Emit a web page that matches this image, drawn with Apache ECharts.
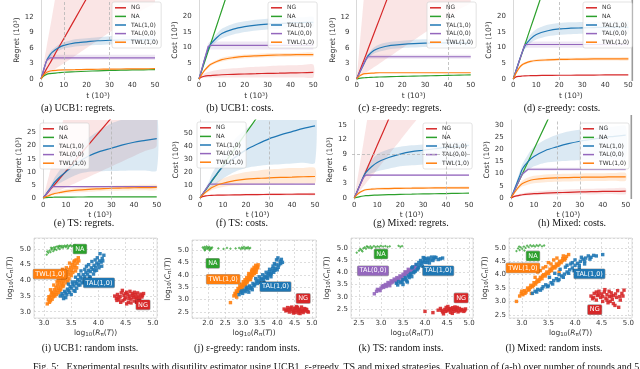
<!DOCTYPE html>
<html>
<head>
<meta charset="utf-8">
<script src="https://cdn.jsdelivr.net/npm/echarts@6/dist/echarts.min.js"></script>
<style>
  html, body { margin: 0; padding: 0; background: #fff; }
  #chart { width: 640px; height: 369px; }
</style>
</head>
<body>
<div id="chart"></div>
<script>
// time grid (10^3 rounds) shared by all curve panels
const T = [0, 1, 2.5, 4, 5, 7.5, 10, 15, 20, 25, 30, 35, 40, 45, 50]
const NAMES = ['NG', 'NA', 'TAL(1,0)', 'TAL(0,0)', 'TWL(1,0)']
const COLORS = {
  'NG': '#d62728',
  'NA': '#2ca02c',
  'TAL(1,0)': '#1f77b4',
  'TAL(0,0)': '#9467bd',
  'TWL(1,0)': '#ff7f0e',
}

// (a) UCB1 regrets
const aNG = [0, 0.8, 2.0, 3.1, 3.9, 5.9, 7.8, 11.7, 15.6, 19.5, 23.4, 27.3, 31.2, 35.1, 39]
const aNGlo = [0, 0.3, 0.8, 1.2, 1.5, 2.3, 3, 4.5, 6, 7.5, 9, 10.5, 12, 13.5, 15]
const aNGhi = [0, 2.5, 6.3, 10, 12.5, 18.8, 25, 37.5, 50, 62.5, 75, 87.5, 100, 112.5, 125]
const aNA = [0, 0.5, 0.9, 1.05, 1.1, 1.2, 1.3, 1.4, 1.5, 1.58, 1.65, 1.7, 1.75, 1.78, 1.8]
const aTWL = [0, 0.7, 1.3, 1.55, 1.6, 1.7, 1.75, 1.8, 1.85, 1.88, 1.9, 1.93, 1.95, 1.97, 2.0]
const aTAL10 = [0, 1.5, 3.6, 4.7, 5.2, 6.0, 6.5, 7.0, 7.2, 7.4, 7.5, 7.55, 7.6, 7.6, 7.6]
const aTAL10lo = [0, 1.3, 3.2, 4.2, 4.7, 5.4, 5.9, 6.3, 6.5, 6.6, 6.7, 6.8, 6.8, 6.8, 6.8]
const aTAL10hi = [0, 1.7, 4.0, 5.2, 5.7, 6.6, 7.1, 7.7, 7.9, 8.1, 8.3, 8.3, 8.4, 8.4, 8.4]
const aTAL00 = [0, 1.5, 3.6, 4.1, 4.1, 4.1, 4.1, 4.1, 4.1, 4.1, 4.1, 4.1, 4.1, 4.1, 4.1]
const aTAL00lo = [0, 1.4, 3.3, 3.7, 3.7, 3.7, 3.7, 3.7, 3.7, 3.7, 3.7, 3.7, 3.7, 3.7, 3.7]
const aTAL00hi = [0, 1.6, 3.9, 4.7, 4.7, 4.7, 4.7, 4.7, 4.7, 4.7, 4.7, 4.7, 4.7, 4.7, 4.7]

// (b) UCB1 costs
const bNG = [0, 0.6, 0.9, 1.05, 1.1, 1.25, 1.35, 1.5, 1.6, 1.7, 1.8, 1.85, 1.95, 2.0, 2.1]
const bNGlo = [0, 0.3, 0.4, 0.5, 0.5, 0.5, 0.5, 0.5, 0.5, 0.5, 0.5, 0.5, 0.5, 0.5, 0.5]
const bNGhi = [0, 1.0, 1.8, 2.2, 2.4, 2.8, 3.1, 3.4, 3.7, 3.9, 4.1, 4.3, 4.4, 4.5, 4.6]
const bNA = [0, 2.2, 5.5, 8.8, 11, 16.5, 22, 33, 44, 55, 66, 77, 88, 99, 110]
const bTAL10 = [0, 2.5, 6.3, 9.6, 11.0, 13.0, 14.5, 15.9, 16.7, 17.2, 17.5, 17.7, 17.9, 18.0, 18.1]
const bTAL10lo = [0, 2.3, 5.8, 8.9, 10.0, 11.8, 13.0, 14.2, 15.0, 15.5, 15.8, 16.0, 16.2, 16.3, 16.4]
const bTAL10hi = [0, 2.7, 6.8, 10.3, 12.0, 14.2, 16.0, 17.6, 18.4, 18.9, 19.2, 19.4, 19.6, 19.7, 19.8]
const bTAL00 = [0, 2.6, 6.5, 10.4, 10.7, 10.7, 10.7, 10.7, 10.7, 10.7, 10.7, 10.7, 10.7, 10.7, 10.7]
const bTAL00lo = [0, 2.4, 6.0, 9.4, 9.4, 9.4, 9.4, 9.4, 9.4, 9.4, 9.4, 9.4, 9.4, 9.4, 9.4]
const bTAL00hi = [0, 2.8, 7.0, 11.4, 12.0, 12.0, 12.0, 12.0, 12.0, 12.0, 12.0, 12.0, 12.0, 12.0, 12.0]
const bTWL = [0, 1.2, 2.8, 4.0, 4.6, 5.5, 6.2, 6.8, 7.2, 7.4, 7.55, 7.65, 7.72, 7.78, 7.8]
const bTWLlo = [0, 1.0, 2.4, 3.5, 4.1, 5.0, 5.6, 6.2, 6.6, 6.8, 6.9, 7.0, 7.1, 7.1, 7.2]
const bTWLhi = [0, 1.4, 3.2, 4.5, 5.1, 6.0, 6.8, 7.4, 7.8, 8.0, 8.2, 8.3, 8.3, 8.4, 8.4]

// (c) eps-greedy regrets
const cNG = [0, 1.16, 2.9, 4.6, 5.8, 8.7, 11.6, 17.4, 23.2, 29, 34.8, 40.6, 46.4, 52.2, 58]
const cNGlo = [0, 0.3, 0.75, 1.2, 1.5, 2.25, 3, 4.5, 6, 7.5, 9, 10.5, 12, 13.5, 15]
const cNGhi = [0, 5, 12.5, 20, 25, 37.5, 50, 75, 100, 125, 150, 175, 200, 225, 250]
const cNA = [0, 0.1, 0.2, 0.25, 0.28, 0.33, 0.38, 0.45, 0.5, 0.55, 0.6, 0.65, 0.7, 0.75, 0.8]
const cTWL = [0, 0.5, 0.9, 1.05, 1.1, 1.15, 1.2, 1.2, 1.2, 1.2, 1.2, 1.2, 1.2, 1.2, 1.2]
const cTAL10 = [0, 0.95, 2.3, 3.7, 4.5, 5.5, 6.0, 6.5, 6.7, 6.85, 6.95, 7.0, 7.0, 7.0, 7.0]
const cTAL10lo = [0, 0.85, 2.1, 3.4, 4.1, 4.9, 5.3, 5.8, 6.0, 6.1, 6.2, 6.3, 6.3, 6.3, 6.3]
const cTAL10hi = [0, 1.05, 2.5, 4.0, 4.9, 6.1, 6.7, 7.2, 7.4, 7.6, 7.7, 7.8, 7.8, 7.8, 7.8]
const cTAL00 = [0, 0.95, 2.4, 3.8, 4.3, 4.3, 4.3, 4.3, 4.3, 4.3, 4.3, 4.3, 4.3, 4.3, 4.3]
const cTAL00lo = [0, 0.9, 2.2, 3.5, 3.9, 3.9, 3.9, 3.9, 3.9, 3.9, 3.9, 3.9, 3.9, 3.9, 3.9]
const cTAL00hi = [0, 1.0, 2.6, 4.1, 4.7, 4.7, 4.7, 4.7, 4.7, 4.7, 4.7, 4.7, 4.7, 4.7, 4.7]

// (d) eps-greedy costs
const dNG = [0, 0.6, 0.85, 0.95, 1.0, 1.05, 1.1, 1.15, 1.2, 1.2, 1.25, 1.25, 1.3, 1.3, 1.3]
const dNA = [0, 2.17, 5.4, 8.7, 10.9, 16.3, 21.7, 32.6, 43.4, 54.3, 65.1, 76, 86.8, 97.7, 108.5]
const dTAL10 = [0, 2.3, 5.7, 8.8, 10.5, 12.8, 14.2, 15.4, 16.0, 16.2, 16.3, 16.4, 16.5, 16.5, 16.5]
const dTAL10lo = [0, 2.1, 5.2, 8.0, 9.5, 11.5, 12.6, 13.6, 14.1, 14.3, 14.4, 14.5, 14.5, 14.5, 14.5]
const dTAL10hi = [0, 2.5, 6.2, 9.6, 11.6, 14.2, 15.9, 17.3, 17.9, 18.1, 18.2, 18.3, 18.4, 18.4, 18.5]
const dTAL00 = [0, 2.2, 5.5, 8.8, 11, 11, 11, 11, 11, 11, 11, 11, 11, 11, 11]
const dTAL00lo = [0, 2.1, 5.2, 8.4, 10.0, 10.0, 10.0, 10.0, 10.0, 10.0, 10.0, 10.0, 10.0, 10.0, 10.0]
const dTAL00hi = [0, 2.3, 5.8, 9.2, 12.0, 12.0, 12.0, 12.0, 12.0, 12.0, 12.0, 12.0, 12.0, 12.0, 12.0]
const dTWL = [0, 1.6, 3.5, 4.6, 5.0, 5.6, 5.9, 6.1, 6.25, 6.3, 6.35, 6.4, 6.4, 6.4, 6.4]
const dTWLlo = [0, 1.4, 3.2, 4.2, 4.6, 5.2, 5.5, 5.7, 5.8, 5.9, 5.9, 5.9, 5.9, 5.9, 5.9]
const dTWLhi = [0, 1.8, 3.8, 5.0, 5.4, 6.0, 6.3, 6.5, 6.7, 6.8, 6.8, 6.9, 6.9, 6.9, 6.9]

// (e) TS regrets
const eNG = [0, 1.02, 2.55, 4.1, 5.1, 7.65, 10.2, 15.3, 20.4, 25.5, 30.6, 35.7, 40.8, 45.9, 51]
const eNGlo = [0, 0.4, 1, 1.6, 2, 3, 4, 6, 8, 10, 12, 14, 16, 18, 20]
const eNGhi = [0, 3.4, 8.5, 13.6, 17, 25.5, 34, 51, 68, 85, 102, 119, 136, 153, 170]
const eNA = [0, 0.1, 0.2, 0.25, 0.28, 0.3, 0.32, 0.35, 0.37, 0.38, 0.4, 0.4, 0.4, 0.4, 0.4]
const eTWL = [0, 0.4, 0.9, 1.4, 1.7, 2.1, 2.5, 3.0, 3.3, 3.5, 3.7, 3.8, 3.9, 3.95, 4.0]
const eTWLlo = [0, 0.3, 0.6, 1.0, 1.2, 1.5, 1.8, 2.1, 2.4, 2.6, 2.7, 2.8, 2.9, 2.95, 3.0]
const eTWLhi = [0, 0.5, 1.2, 1.8, 2.2, 2.8, 3.3, 3.9, 4.3, 4.5, 4.7, 4.8, 4.9, 5.0, 5.0]
const eTAL10 = [0, 1.2, 3.0, 4.8, 6.0, 8.2, 10.0, 13.4, 16.0, 17.8, 19.0, 20.3, 21.3, 22.0, 22.7]
const eTAL10lo = [0, 0.9, 2.3, 3.6, 4.4, 5.8, 7.0, 9.0, 10.0, 10.2, 10.3, 10.4, 10.5, 10.5, 10.5]
const eTAL10hi = [0, 1.5, 3.8, 6.0, 7.8, 11.0, 14.0, 19.0, 23.0, 26.0, 28.5, 30.0, 31.0, 32.0, 33.0]
const eTAL00 = [0, 1.1, 2.7, 4.3, 4.3, 4.3, 4.3, 4.3, 4.3, 4.3, 4.3, 4.3, 4.3, 4.3, 4.3]
const eTAL00lo = [0, 1.0, 2.5, 4.0, 4.0, 4.0, 4.0, 4.0, 4.0, 4.0, 4.0, 4.0, 4.0, 4.0, 4.0]
const eTAL00hi = [0, 1.2, 2.9, 4.6, 4.6, 4.6, 4.6, 4.6, 4.6, 4.6, 4.6, 4.6, 4.6, 4.6, 4.6]

// (f) TS costs
const fNG = [0, 1.0, 1.6, 1.9, 2.0, 2.1, 2.2, 2.35, 2.5, 2.6, 2.7, 2.8, 2.85, 2.9, 3.0]
const fNGlo = [0, 0.8, 1.2, 1.4, 1.5, 1.6, 1.6, 1.7, 1.8, 1.8, 1.9, 1.9, 1.9, 2.0, 2.0]
const fNGhi = [0, 1.2, 2.0, 2.4, 2.5, 2.7, 2.8, 3.0, 3.2, 3.4, 3.5, 3.6, 3.7, 3.8, 3.9]
const fNA = [0, 2.5, 6.25, 10, 12.5, 18.75, 25, 37.5, 50, 62.5, 75, 87.5, 100, 112.5, 125]
const fTAL10 = [0, 2.6, 6.5, 10.4, 13.0, 19.0, 24.0, 31.0, 37.0, 41.5, 45.5, 48.5, 51.0, 53.5, 55.5]
const fTAL10lo = [0, 2.0, 5.0, 7.0, 8.0, 11.5, 15.0, 20.0, 23.0, 24.5, 25.5, 26.0, 26.5, 27.0, 27.0]
const fTAL10hi = [0, 3.2, 8.0, 13.0, 18.0, 26.0, 33.0, 45.0, 53.0, 60.0, 66.0, 71.0, 75.0, 78.0, 80.0]
const fTAL00 = [0, 2.7, 6.7, 10.7, 10.7, 10.7, 10.7, 10.7, 10.7, 10.7, 10.7, 10.7, 10.7, 10.7, 10.7]
const fTWL = [0, 2.0, 4.5, 6.5, 7.8, 10.0, 11.3, 13.3, 14.5, 15.0, 15.5, 15.8, 16.0, 16.3, 16.5]
const fTWLlo = [0, 1.6, 3.5, 5.0, 6.0, 7.5, 8.5, 9.5, 10.0, 10.3, 10.5, 10.7, 10.8, 10.9, 11.0]
const fTWLhi = [0, 2.4, 5.5, 8.0, 9.5, 12.5, 15.0, 18.0, 20.0, 21.0, 22.0, 22.5, 23.0, 23.0, 23.0]

// (g) Mixed regrets
const gNG = [0, 1.08, 2.7, 4.3, 5.4, 8.1, 10.8, 16.2, 21.6, 27, 32.4, 37.8, 43.2, 48.6, 54]
const gNGlo = [0, 0.59, 1.5, 2.4, 3, 4.4, 5.9, 8.9, 11.8, 14.8, 17.7, 20.7, 23.6, 26.6, 29.5]
const gNGhi = [0, 2.85, 7.1, 11.4, 14.3, 21.4, 28.5, 42.8, 57, 71.3, 85.5, 99.8, 114, 128, 142.5]
const gNA = [0, 0.15, 0.3, 0.42, 0.48, 0.55, 0.6, 0.68, 0.75, 0.8, 0.85, 0.88, 0.92, 0.96, 1.0]
const gTWL = [0, 0.6, 1.2, 1.55, 1.7, 1.82, 1.9, 1.95, 2.0, 2.02, 2.05, 2.07, 2.08, 2.1, 2.1]
const gTWLlo = [0, 0.5, 1.0, 1.35, 1.5, 1.6, 1.7, 1.75, 1.8, 1.82, 1.85, 1.87, 1.88, 1.9, 1.9]
const gTWLhi = [0, 0.7, 1.4, 1.75, 1.9, 2.05, 2.15, 2.2, 2.25, 2.28, 2.3, 2.32, 2.33, 2.35, 2.35]
const gTAL10 = [0, 1.1, 2.8, 4.4, 5.2, 6.4, 7.3, 8.3, 9.0, 9.5, 9.8, 10.1, 10.4, 10.6, 10.8]
const gTAL10lo = [0, 1.0, 2.5, 3.9, 4.5, 5.1, 5.5, 6.0, 6.5, 6.7, 6.9, 7.0, 7.1, 7.2, 7.3]
const gTAL10hi = [0, 1.2, 3.1, 4.9, 6.0, 7.8, 9.0, 10.0, 10.5, 10.8, 11.0, 11.2, 11.4, 11.5, 11.6]
const gTAL00 = [0, 1.05, 2.6, 4.2, 4.7, 4.7, 4.7, 4.7, 4.7, 4.7, 4.7, 4.7, 4.7, 4.7, 4.7]
const gTAL00lo = [0, 1.0, 2.5, 4.0, 4.5, 4.5, 4.5, 4.5, 4.5, 4.5, 4.5, 4.5, 4.5, 4.5, 4.5]
const gTAL00hi = [0, 1.1, 2.7, 4.4, 4.9, 4.9, 4.9, 4.9, 4.9, 4.9, 4.9, 4.9, 4.9, 4.9, 4.9]

// (h) Mixed costs
const hNG = [0, 0.5, 0.9, 1.2, 1.35, 1.6, 1.8, 2.0, 2.2, 2.35, 2.5, 2.6, 2.7, 2.75, 2.8]
const hNGlo = [0, 0.3, 0.5, 0.7, 0.8, 1.0, 1.1, 1.2, 1.3, 1.4, 1.5, 1.5, 1.6, 1.6, 1.6]
const hNGhi = [0, 0.8, 1.4, 1.8, 2.0, 2.4, 2.7, 3.0, 3.3, 3.5, 3.7, 3.8, 3.9, 4.0, 4.0]
const hNA = [0, 2, 5, 8, 10, 15, 20, 30, 40, 50, 60, 70, 80, 90, 100]
const hTAL10 = [0, 2.4, 6.0, 9.6, 12.0, 15.0, 17.0, 19.5, 21.0, 22.3, 23.3, 24.0, 24.8, 25.3, 25.8]
const hTAL10lo = [0, 2.0, 5.0, 7.5, 9.0, 11.5, 13.0, 14.5, 15.0, 15.3, 15.5, 15.7, 15.8, 15.9, 16.0]
const hTAL10hi = [0, 2.8, 7.0, 11.5, 14.0, 18.0, 21.0, 24.0, 26.0, 27.3, 28.0, 28.6, 29.0, 29.3, 29.5]
const hTAL00 = [0, 2, 5, 8, 10, 11.8, 11.8, 11.8, 11.8, 11.8, 11.8, 11.8, 11.8, 11.8, 11.8]
const hTAL00lo = [0, 1.9, 4.8, 7.7, 9.6, 11.2, 11.2, 11.2, 11.2, 11.2, 11.2, 11.2, 11.2, 11.2, 11.2]
const hTAL00hi = [0, 2.1, 5.2, 8.3, 10.4, 12.4, 12.4, 12.4, 12.4, 12.4, 12.4, 12.4, 12.4, 12.4, 12.4]
const hTWL = [0, 1.5, 3.5, 5.2, 6.0, 7.0, 7.6, 8.1, 8.3, 8.4, 8.5, 8.6, 8.6, 8.7, 8.7]
const hTWLlo = [0, 1.2, 2.8, 4.2, 4.8, 5.6, 6.1, 6.5, 6.7, 6.8, 6.9, 7.0, 7.0, 7.1, 7.1]
const hTWLhi = [0, 1.8, 4.2, 6.2, 7.2, 8.4, 9.1, 9.7, 9.9, 10.0, 10.1, 10.2, 10.2, 10.3, 10.3]

// (i) UCB1 random instances: [log10 R, log10 C]
const iNA = [[3.05,4.82],[3.08,4.88],[3.10,4.95],[3.12,4.90],[3.14,4.98],[3.15,5.02],[3.17,4.93],[3.18,5.05],[3.20,5.00],[3.21,5.06],[3.23,4.97],[3.24,5.08],[3.26,5.03],[3.27,5.07],[3.29,5.00],[3.30,5.09],[3.32,5.05],[3.33,5.10],[3.35,5.04],[3.36,5.08],[3.38,5.11],[3.40,5.06],[3.41,5.09],[3.43,5.12],[3.45,5.07],[3.47,5.10],[3.49,5.12],[3.51,5.08],[3.54,5.11],[3.57,5.12],[3.13,5.04],[3.19,4.98],[3.28,5.10],[3.06,4.92],[3.44,5.02]]
const iTWL = [[3.06,3.25],[3.08,3.38],[3.10,3.30],[3.11,3.45],[3.13,3.52],[3.15,3.40],[3.16,3.60],[3.18,3.55],[3.19,3.70],[3.21,3.62],[3.22,3.78],[3.24,3.68],[3.25,3.85],[3.27,3.75],[3.28,3.92],[3.30,3.82],[3.31,4.00],[3.33,3.90],[3.34,4.05],[3.36,3.95],[3.37,4.12],[3.39,4.02],[3.40,4.20],[3.42,4.10],[3.43,4.28],[3.45,4.18],[3.46,4.35],[3.48,4.25],[3.49,4.42],[3.51,4.32],[3.52,4.50],[3.54,4.40],[3.55,4.58],[3.57,4.48],[3.59,4.65],[3.61,4.55],[3.63,4.72],[3.20,3.50],[3.29,3.68],[3.35,3.80],[3.44,3.98],[3.50,4.15],[3.38,4.30],[3.47,4.55],[3.58,4.30],[3.14,3.62],[3.26,4.00],[3.32,4.22],[3.41,4.40],
  [3.09,3.48],[3.12,3.35],[3.17,3.48],[3.23,3.55],[3.27,3.60],[3.31,3.72],[3.36,3.85],[3.39,4.15],[3.42,3.92],[3.46,4.05],[3.53,4.25],[3.56,4.62],[3.60,4.40],[3.64,4.62],[3.34,4.35],[3.24,3.95],[3.18,3.85],[3.12,3.70]]
const iTAL10 = [[3.30,3.50],[3.33,3.58],[3.35,3.52],[3.38,3.65],[3.40,3.60],[3.43,3.72],[3.45,3.68],[3.48,3.80],[3.50,3.75],[3.53,3.88],[3.55,3.82],[3.58,3.95],[3.60,3.90],[3.62,4.02],[3.65,3.98],[3.67,4.10],[3.70,4.05],[3.72,4.18],[3.75,4.12],[3.77,4.25],[3.80,4.20],[3.82,4.32],[3.85,4.28],[3.87,4.40],[3.90,4.35],[3.92,4.48],[3.95,4.42],[3.97,4.55],[4.00,4.50],[4.02,4.62],[4.05,4.58],[4.07,4.70],[4.10,4.80],[4.03,4.85],[3.98,4.72],[3.88,4.60],[3.78,4.45],[3.68,4.30],[3.63,3.85],[3.52,3.95],[3.45,3.88],[3.57,3.65],[3.70,3.92],[3.83,4.12],[3.93,4.30],[3.40,3.45],[3.50,3.55],
  [3.36,3.42],[3.42,3.55],[3.47,3.62],[3.55,3.68],[3.60,3.75],[3.66,3.85],[3.72,3.95],[3.78,4.00],[3.85,4.10],[3.91,4.20],[3.96,4.32],[4.01,4.40],[4.06,4.45],[3.75,4.35],[3.82,4.50],[3.94,4.65],[4.08,4.62],[3.58,4.10],[3.64,4.18]]
const iNG = [[4.30,3.50],[4.33,3.42],[4.35,3.55],[4.38,3.38],[4.40,3.48],[4.42,3.60],[4.45,3.35],[4.47,3.52],[4.50,3.44],[4.52,3.62],[4.55,3.30],[4.57,3.50],[4.60,3.40],[4.62,3.58],[4.64,3.46],[4.66,3.34],[4.68,3.54],[4.70,3.42],[4.72,3.60],[4.74,3.50],[4.76,3.38],[4.78,3.56],[4.80,3.47],[4.83,3.58],[4.52,3.25],[4.60,3.28],[4.44,3.68],[4.58,3.65],[4.66,3.62],[4.48,3.40],[4.70,3.30],[4.36,3.46],
  [4.34,3.36],[4.41,3.30],[4.49,3.58],[4.56,3.42],[4.63,3.52],[4.69,3.46],[4.75,3.44],[4.81,3.52],[4.54,3.54]]

// (j) eps-greedy random instances
const jNA = [[1.85,5.10],[1.88,5.05],[1.90,5.12],[1.92,5.02],[1.94,5.08],[1.96,5.14],[1.98,5.04],[2.00,5.10],[2.02,5.06],[2.04,5.12],[2.06,5.02],[2.08,5.08],[2.10,5.05],[2.12,5.10],[1.91,4.98],[2.05,4.98],[2.30,5.06],[2.45,5.04],[2.55,5.08],[2.65,5.05],[2.80,5.06],[2.90,5.08],[2.95,5.04],[2.98,5.10],[3.01,5.06],[3.04,5.12],[3.07,5.04],[3.10,5.09],[3.13,5.06],[3.16,5.11],[3.19,5.05],[3.22,5.08]]
const jTWL = [[2.65,2.88],[2.75,3.15],[2.78,3.25],[2.80,3.20],[2.82,3.35],[2.85,3.28],[2.87,3.45],[2.90,3.38],[2.92,3.55],[2.95,3.48],[2.97,3.62],[3.00,3.55],[3.02,3.72],[3.05,3.65],[3.07,3.80],[3.10,3.72],[3.12,3.88],[3.15,3.80],[3.17,3.95],[3.20,3.88],[3.22,4.02],[3.25,3.95],[3.27,4.10],[3.30,4.05],[3.32,4.18],[3.35,4.12],[3.37,4.25],[3.40,4.20],[3.42,4.32],[3.45,4.40],[3.38,4.38],[3.28,4.22],[3.18,4.05],[3.08,3.58],[2.98,3.40],[3.13,3.70],[3.23,3.80],
  [2.83,3.10],[2.88,3.30],[2.93,3.42],[2.99,3.50],[3.04,3.60],[3.09,3.65],[3.14,3.75],[3.19,3.82],[3.24,3.90],[3.29,3.98],[3.34,4.05],[3.39,4.10],[3.44,4.28],[3.33,4.30],[3.26,4.15]]
const jTAL10 = [[2.90,3.20],[2.95,3.30],[3.00,3.25],[3.05,3.38],[3.10,3.45],[3.15,3.40],[3.20,3.55],[3.25,3.50],[3.30,3.65],[3.35,3.60],[3.40,3.72],[3.45,3.78],[3.50,3.70],[3.55,3.85],[3.60,3.80],[3.65,3.95],[3.70,3.90],[3.75,4.05],[3.80,4.00],[3.85,4.15],[3.90,4.10],[3.95,4.25],[4.00,4.20],[4.05,4.40],[4.08,4.55],[4.12,4.62],[4.15,4.50],[3.98,4.60],[4.02,4.68],[3.92,4.45],[3.88,4.35],[3.78,4.22],[3.68,4.10],[3.58,4.00],[3.48,3.92],[3.38,3.85],[3.28,3.40],[3.18,3.30],[3.62,3.70],[3.72,3.85],[3.82,3.92],
  [2.98,3.35],[3.08,3.32],[3.13,3.50],[3.23,3.45],[3.33,3.55],[3.43,3.65],[3.53,3.80],[3.63,3.88],[3.73,3.98],[3.83,4.05],[3.93,4.18],[4.03,4.30],[4.10,4.45],[3.97,4.40],[3.87,4.25],[3.77,4.12]]
const jNG = [[4.20,2.62],[4.25,2.55],[4.30,2.68],[4.35,2.50],[4.40,2.60],[4.42,2.70],[4.45,2.52],[4.50,2.64],[4.52,2.48],[4.55,2.58],[4.58,2.68],[4.60,2.54],[4.62,2.46],[4.65,2.62],[4.68,2.52],[4.70,2.70],[4.72,2.58],[4.75,2.48],[4.78,2.64],[4.80,2.55],[4.85,2.60],[4.90,2.50],[4.48,2.56],[4.38,2.66],[4.66,2.44],[4.56,2.72],[4.28,2.58],
  [4.33,2.58],[4.47,2.46],[4.53,2.66],[4.63,2.58],[4.74,2.54],[4.82,2.62],[4.87,2.52]]

// (k) TS random instances
const kNA = [[2.45,4.80],[2.50,4.88],[2.53,4.95],[2.56,4.90],[2.60,4.98],[2.63,5.02],[2.66,4.96],[2.70,5.04],[2.73,5.00],[2.76,5.06],[2.80,5.02],[2.84,5.07],[2.88,5.03],[2.92,5.06],[2.96,5.04],[3.00,5.08],[3.05,5.05],[3.10,5.07],[3.15,5.04],[3.20,5.06],[3.40,5.08],[3.44,5.04],[3.48,5.07],[2.58,4.85],[2.68,5.06],[2.78,4.98]]
const kTAL00 = [[2.85,3.12],[2.90,3.22],[2.95,3.28],[3.00,3.35],[3.03,3.42],[3.06,3.38],[3.10,3.50],[3.13,3.46],[3.16,3.58],[3.20,3.55],[3.23,3.65],[3.26,3.62],[3.30,3.72],[3.33,3.68],[3.36,3.78],[3.40,3.75],[3.43,3.85],[3.46,3.82],[3.50,3.92],[3.53,3.88],[3.56,3.98],[3.60,4.00],[3.63,4.08],[3.66,4.05],[3.70,4.15],[3.73,4.12],[3.76,4.22],[3.80,4.30],[3.20,3.45],[3.35,3.60],[3.48,3.70],
  [2.92,3.30],[2.98,3.25],[3.05,3.45],[3.12,3.42],[3.18,3.52],[3.25,3.58],[3.31,3.65],[3.38,3.72],[3.45,3.78],[3.52,3.85],[3.58,3.92],[3.65,4.00],[3.72,4.05],[3.78,4.18],[3.62,4.12],[3.55,4.02]]
const kTAL10 = [[3.35,3.55],[3.40,3.62],[3.45,3.58],[3.50,3.70],[3.55,3.78],[3.58,3.65],[3.62,3.85],[3.66,3.90],[3.70,3.82],[3.74,3.98],[3.78,4.05],[3.82,4.10],[3.85,4.20],[3.88,4.28],[3.92,4.35],[3.95,4.42],[3.98,4.48],[4.02,4.55],[4.05,4.40],[4.08,4.58],[4.12,4.50],[4.15,4.62],[4.20,4.55],[4.25,4.60],[4.30,4.52],[4.40,4.58],[3.96,4.60],[3.90,4.48],[3.80,4.32],[3.72,4.22],[4.10,4.38],[3.60,3.60],[3.50,3.50],
  [3.38,3.48],[3.48,3.62],[3.56,3.72],[3.64,3.78],[3.68,3.95],[3.76,4.02],[3.84,4.15],[3.94,4.25],[4.00,4.40],[4.06,4.50],[4.18,4.48],[4.22,4.62],[4.35,4.55],[3.86,4.40],[3.99,4.58],[3.70,4.18]]
const kNG = [[4.00,2.40],[4.18,2.35],[4.30,2.45],[4.35,2.52],[4.40,2.38],[4.45,2.48],[4.48,2.56],[4.50,2.42],[4.55,2.50],[4.58,2.36],[4.60,2.46],[4.63,2.55],[4.66,2.40],[4.70,2.50],[4.72,2.44],[4.75,2.38],[4.78,2.52],[4.80,2.42],[4.84,2.48],[4.88,2.40],[4.92,2.50],[4.52,2.60],[4.68,2.58],[4.42,2.30],[4.62,2.32],
  [4.38,2.44],[4.46,2.40],[4.53,2.46],[4.65,2.48],[4.73,2.56],[4.82,2.46],[4.90,2.44],[4.58,2.52]]

// (l) Mixed random instances
const lNA = [[2.90,4.88],[2.93,4.98],[2.96,4.92],[2.98,5.02],[3.01,4.96],[3.04,5.05],[3.07,5.00],[3.10,5.08],[3.13,5.03],[3.16,5.10],[3.19,5.06],[3.22,5.09],[3.25,5.05],[3.28,5.10],[3.31,5.07],[3.34,5.11],[3.38,5.06],[3.42,5.09],[2.95,5.05],[3.05,4.90]]
const lTWL = [[2.90,3.00],[2.96,3.20],[2.99,3.30],[3.02,3.25],[3.05,3.40],[3.08,3.35],[3.11,3.50],[3.14,3.45],[3.17,3.60],[3.20,3.55],[3.23,3.70],[3.26,3.65],[3.29,3.80],[3.32,3.75],[3.35,3.90],[3.38,3.85],[3.41,4.00],[3.44,3.95],[3.47,4.10],[3.50,4.05],[3.53,4.20],[3.56,4.15],[3.59,4.30],[3.62,4.25],[3.65,4.40],[3.68,4.35],[3.71,4.50],[3.74,4.45],[3.77,4.60],[3.80,4.55],[3.84,4.68],[3.88,4.75],[3.60,4.55],[3.50,4.45],[3.40,4.25],[3.30,4.10],[3.70,4.10],[3.18,3.30],[3.25,3.90],
  [3.00,3.38],[3.06,3.30],[3.12,3.42],[3.16,3.52],[3.22,3.60],[3.28,3.72],[3.34,3.82],[3.39,3.95],[3.45,4.02],[3.52,4.12],[3.57,4.25],[3.64,4.30],[3.70,4.40],[3.76,4.52],[3.82,4.60],[3.55,4.40],[3.45,4.30],[3.35,4.15],[3.66,4.62],[3.78,4.70]]
const lTAL10 = [[3.20,3.30],[3.25,3.38],[3.30,3.45],[3.35,3.42],[3.40,3.55],[3.45,3.62],[3.50,3.58],[3.55,3.70],[3.60,3.78],[3.65,3.85],[3.70,3.82],[3.75,3.95],[3.80,4.02],[3.85,4.10],[3.90,4.18],[3.95,4.25],[4.00,4.35],[4.05,4.42],[4.10,4.50],[4.15,4.58],[4.20,4.62],[4.25,4.70],[4.30,4.65],[4.35,4.72],[4.52,4.75],[4.00,4.55],[3.92,4.40],[3.82,4.28],[3.72,4.20],[3.62,4.05],[3.52,3.90],[4.08,4.25],[4.18,4.40],
  [3.28,3.35],[3.38,3.48],[3.48,3.55],[3.58,3.65],[3.68,3.78],[3.78,3.90],[3.88,4.05],[3.98,4.15],[4.08,4.35],[4.18,4.50],[4.28,4.58],[4.40,4.70],[3.95,4.45],[3.85,4.35],[4.12,4.65],[3.70,4.00]]
const lNG = [[4.30,3.20],[4.33,3.10],[4.36,3.30],[4.40,3.05],[4.42,3.22],[4.45,3.38],[4.48,3.15],[4.50,3.28],[4.52,3.00],[4.55,3.35],[4.58,3.12],[4.60,3.25],[4.62,2.95],[4.65,3.18],[4.68,3.32],[4.70,3.08],[4.72,3.22],[4.75,2.85],[4.78,3.15],[4.80,3.40],[4.82,2.78],[4.85,3.05],[4.88,3.30],[4.92,3.42],[4.56,3.44],[4.66,3.00],[4.40,3.35],
  [4.35,3.15],[4.44,3.26],[4.52,3.18],[4.60,3.05],[4.68,3.20],[4.76,3.28],[4.84,3.18],[4.90,3.20],[4.64,3.38],[4.72,2.92]]

// tag anchors for the boxed labels in the scatter panels
const iTags = [['NA', 3.66, 5.0], ['TWL(1,0)', 3.11, 4.2], ['TAL(1,0)', 4.01, 3.92], ['NG', 4.82, 3.22]]
const jTags = [['NA', 2.14, 4.46], ['TWL(1,0)', 2.44, 3.82], ['TAL(1,0)', 3.95, 3.52], ['NG', 4.75, 3.05]]
const kTags = [['NA', 3.0, 4.75], ['TAL(0,0)', 2.82, 4.06], ['TAL(1,0)', 4.30, 4.06], ['NG', 4.82, 2.95]]
const lTags = [['NA', 3.21, 4.70], ['TWL(1,0)', 3.02, 4.25], ['TAL(1,0)', 4.27, 4.03], ['NG', 4.37, 2.69]]

const REG = 'Regret (10³)'
const COST = 'Cost (10³)'

// curve panels
const linePanels = [
  { rect: [38.7, 0, 118.6, 80], y: [-0.2, 15.3], step: 3, top: 12, yName: REG, leg: [112, 2], vl: [10, 30], hl: [],
    lines: { 'NG': aNG, 'NA': aNA, 'TAL(1,0)': aTAL10, 'TAL(0,0)': aTAL00, 'TWL(1,0)': aTWL },
    bands: { 'NG': [aNGlo, aNGhi], 'TAL(1,0)': [aTAL10lo, aTAL10hi], 'TAL(0,0)': [aTAL00lo, aTAL00hi] } },
  { rect: [196.7, 0, 118.9, 80], y: [-0.32, 25.2], step: 5, top: 20, yName: COST, leg: [268, 2], vl: [], hl: [],
    lines: { 'NG': bNG, 'NA': bNA, 'TAL(1,0)': bTAL10, 'TAL(0,0)': bTAL00, 'TWL(1,0)': bTWL },
    bands: { 'NG': [bNGlo, bNGhi], 'TAL(1,0)': [bTAL10lo, bTAL10hi], 'TAL(0,0)': [bTAL00lo, bTAL00hi], 'TWL(1,0)': [bTWLlo, bTWLhi] } },
  { rect: [354.4, 0, 118.6, 80], y: [-0.2, 15.3], step: 3, top: 12, yName: REG, leg: [427, 2], vl: [40], hl: [],
    lines: { 'NG': cNG, 'NA': cNA, 'TAL(1,0)': cTAL10, 'TAL(0,0)': cTAL00, 'TWL(1,0)': cTWL },
    bands: { 'NG': [cNGlo, cNGhi], 'TAL(1,0)': [cTAL10lo, cTAL10hi], 'TAL(0,0)': [cTAL00lo, cTAL00hi] } },
  { rect: [511, 0, 119.6, 80], y: [-0.32, 25.2], step: 5, top: 20, yName: COST, leg: [583, 2], vl: [20], hl: [],
    lines: { 'NG': dNG, 'NA': dNA, 'TAL(1,0)': dTAL10, 'TAL(0,0)': dTAL00, 'TWL(1,0)': dTWL },
    bands: { 'TAL(1,0)': [dTAL10lo, dTAL10hi], 'TAL(0,0)': [dTAL00lo, dTAL00hi], 'TWL(1,0)': [dTWLlo, dTWLhi] } },
  { rect: [41, 120, 118, 79.5], y: [-0.6, 29.8], step: 5, top: 25, yName: REG, leg: [40, 123], vl: [30], hl: [],
    lines: { 'NG': eNG, 'NA': eNA, 'TAL(1,0)': eTAL10, 'TAL(0,0)': eTAL00, 'TWL(1,0)': eTWL },
    bands: { 'NG': [eNGlo, eNGhi], 'TAL(1,0)': [eTAL10lo, eTAL10hi], 'TAL(0,0)': [eTAL00lo, eTAL00hi], 'TWL(1,0)': [eTWLlo, eTWLhi] } },
  { rect: [197.7, 120, 119.6, 79.5], y: [-1.2, 60], step: 10, top: 50, yName: COST, leg: [197, 122], vl: [30], hl: [],
    lines: { 'NG': fNG, 'NA': fNA, 'TAL(1,0)': fTAL10, 'TAL(0,0)': fTAL00, 'TWL(1,0)': fTWL },
    bands: { 'NG': [fNGlo, fNGhi], 'TAL(1,0)': [fTAL10lo, fTAL10hi], 'TWL(1,0)': [fTWLlo, fTWLhi] } },
  { rect: [352, 120, 119.3, 79.5], y: [-0.3, 16], step: 3, top: 15, yName: REG, leg: [423, 123], vl: [40], hl: [9],
    lines: { 'NG': gNG, 'NA': gNA, 'TAL(1,0)': gTAL10, 'TAL(0,0)': gTAL00, 'TWL(1,0)': gTWL },
    bands: { 'NG': [gNGlo, gNGhi], 'TAL(1,0)': [gTAL10lo, gTAL10hi], 'TAL(0,0)': [gTAL00lo, gTAL00hi], 'TWL(1,0)': [gTWLlo, gTWLhi] } },
  { rect: [508.7, 120, 119.3, 79.5], y: [-0.6, 32], step: 5, top: 30, yName: COST, leg: [580, 123], vl: [20, 30], hl: [],
    lines: { 'NG': hNG, 'NA': hNA, 'TAL(1,0)': hTAL10, 'TAL(0,0)': hTAL00, 'TWL(1,0)': hTWL },
    bands: { 'NG': [hNGlo, hNGhi], 'TAL(1,0)': [hTAL10lo, hTAL10hi], 'TAL(0,0)': [hTAL00lo, hTAL00hi], 'TWL(1,0)': [hTWLlo, hTWLhi] } },
]

// scatter panels
const scatterPanels = [
  { rect: [34, 238, 123, 80], x: [2.816, 5.077], y: [2.80, 5.35], xs: 5, ys: 5, tags: iTags,
    groups: [['NA', iNA], ['TWL(1,0)', iTWL], ['TAL(1,0)', iTAL10], ['NG', iNG]] },
  { rect: [192, 240, 124, 78], x: [1.54, 5.12], y: [2.26, 5.4], xs: 7, ys: 6, tags: jTags,
    groups: [['NA', jNA], ['TWL(1,0)', jTWL], ['TAL(1,0)', jTAL10], ['NG', jNG]] },
  { rect: [351, 238, 122, 80], x: [2.32, 5.09], y: [2.13, 5.4], xs: 5, ys: 6, tags: kTags,
    groups: [['NA', kNA], ['TAL(0,0)', kTAL00], ['TAL(1,0)', kTAL10], ['NG', kNG]] },
  { rect: [509, 238, 123, 80], x: [2.76, 5.07], y: [2.38, 5.37], xs: 5, ys: 6, tags: lTags,
    groups: [['NA', lNA], ['TWL(1,0)', lTWL], ['TAL(1,0)', lTAL10], ['NG', lNG]] },
]

const captions = [
  ['(a) UCB1: regrets.', 78, 108], ['(b) UCB1: costs.', 240, 108],
  ['(c) ε-greedy: regrets.', 400, 108], ['(d) ε-greedy: costs.', 562, 108],
  ['(e) TS: regrets.', 84, 223], ['(f) TS: costs.', 242, 223],
  ['(g) Mixed: regrets.', 411, 223], ['(h) Mixed: costs.', 572, 223],
  ['(i) UCB1: random insts.', 90, 348], ['(j) ε-greedy: random insts.', 247, 348],
  ['(k) TS: random insts.', 401, 348], ['(l) Mixed: random insts.', 554, 348],
]

const FONT = 'DejaVu Sans'
const fmtStep = (step, dec, top) => v => {
  const k = v / step
  if (top !== undefined && v > top + 1e-9) return ''
  return Math.abs(k - Math.round(k)) < 1e-6 ? v.toFixed(dec) : ''
}
const rich = {
  a: { fontSize: 7.5, fontFamily: FONT, color: '#333' },
  i: { fontSize: 7.5, fontFamily: FONT, fontStyle: 'italic', color: '#333' },
  s: { fontSize: 5.5, fontFamily: FONT, color: '#333', verticalAlign: 'bottom', padding: [4, 0, 0, 0] },
}

const chart = echarts.init(document.getElementById('chart'), null, { renderer: 'canvas' })

const grid = []
const xAxis = []
const yAxis = []
const series = []
const legend = []

// confidence band drawn as a polygon through the axis scales
function bandSeries(gi, name, lo, hi) {
  const smooth = name === 'TAL(0,0)' ? 0 : 0.25
  return {
    type: 'custom', name: name + ' band', xAxisIndex: gi, yAxisIndex: gi, silent: true, z: 1,
    data: [[T[0], lo[0]]],
    renderItem: (params, api) => {
      const upper = T.map((t, i) => api.coord([t, hi[i]]))
      const lower = T.map((t, i) => api.coord([t, lo[i]]))
      const cs = params.coordSys
      return {
        type: 'polygon',
        shape: { points: lower.concat(upper.reverse()), smooth },
        style: { fill: COLORS[name], opacity: name === 'NG' ? 0.12 : 0.16 },
        clipPath: { type: 'rect', shape: { x: cs.x, y: cs.y, width: cs.width, height: cs.height } },
      }
    },
  }
}

linePanels.forEach((p, gi) => {
  grid.push({ left: p.rect[0], top: p.rect[1], width: p.rect[2], height: p.rect[3], containLabel: false, outerBoundsMode: 'none' })
  xAxis.push({
    gridIndex: gi, type: 'value', min: -1, max: 51, splitNumber: 5,
    axisLine: { show: false }, axisTick: { show: false }, splitLine: { show: false },
    axisLabel: { fontSize: 7, color: '#333', fontFamily: FONT, margin: 2, formatter: fmtStep(10, 0) },
    name: 't (10³)', nameLocation: 'middle', nameGap: 12,
    nameTextStyle: { fontSize: 7.5, color: '#333', fontFamily: FONT },
  })
  yAxis.push({
    gridIndex: gi, type: 'value', min: p.y[0], max: p.y[1], splitNumber: 5,
    axisLine: { show: true, lineStyle: { color: '#cfcfcf', width: 0.8 } },
    axisTick: { show: false }, splitLine: { show: false },
    axisLabel: { fontSize: 7, color: '#333', fontFamily: FONT, margin: 5, formatter: fmtStep(p.step, 0, p.top) },
    name: p.yName, nameLocation: 'middle', nameGap: 17,
    nameTextStyle: { fontSize: 7.5, color: '#333', fontFamily: FONT },
  })
  Object.keys(p.bands).forEach(name => {
    const [lo, hi] = p.bands[name]
    series.push(bandSeries(gi, name, lo, hi))
  })
  NAMES.forEach((name, k) => {
    const vals = p.lines[name]
    const s = {
      type: 'line', name, xAxisIndex: gi, yAxisIndex: gi, silent: true,
      data: T.map((t, i) => [t, vals[i]]), symbol: 'none',
      smooth: name === 'TAL(0,0)' ? false : 0.3,
      color: COLORS[name], lineStyle: { width: 1.2, color: COLORS[name] }, z: 3,
    }
    if (k === 0 && (p.vl.length || p.hl.length)) {
      s.markLine = {
        silent: true, symbol: 'none', label: { show: false },
        lineStyle: { color: '#b5b5b5', type: [3, 2], width: 0.8 },
        data: p.vl.map(v => ({ xAxis: v })).concat(p.hl.map(v => ({ yAxis: v }))),
      }
    }
    series.push(s)
  })
  legend.push({
    data: NAMES, orient: 'vertical', left: p.leg[0], top: p.leg[1], selectedMode: false,
    icon: 'rect', itemWidth: 11, itemHeight: 1.5, itemGap: 1,
    textStyle: { fontSize: 6, color: '#333', fontFamily: FONT, lineHeight: 7.6 },
    backgroundColor: 'rgba(255,255,255,0.85)', borderColor: '#d0d0d0', borderWidth: 0.6, borderRadius: 2,
    padding: [2, 3, 2, 3],
  })
})

scatterPanels.forEach((p, k) => {
  const gi = linePanels.length + k
  grid.push({ left: p.rect[0], top: p.rect[1], width: p.rect[2], height: p.rect[3], containLabel: false, outerBoundsMode: 'none',
    show: true, borderColor: '#d8d8d8', borderWidth: 0.8 })
  xAxis.push({
    gridIndex: gi, type: 'value', min: p.x[0], max: p.x[1], splitNumber: p.xs,
    axisLine: { show: false }, axisTick: { show: false },
    splitLine: { show: true, lineStyle: { color: '#cfcfcf', type: [2, 2], width: 0.7 } },
    axisLabel: { fontSize: 7, color: '#333', fontFamily: FONT, margin: 2, formatter: fmtStep(0.5, 1) },
    name: '{a|log}{s|10}{a|(}{i|R}{s|π}{a|(}{i|T}{a|))}', nameLocation: 'middle', nameGap: 10,
    nameTextStyle: { rich },
  })
  yAxis.push({
    gridIndex: gi, type: 'value', min: p.y[0], max: p.y[1], splitNumber: p.ys,
    axisLine: { show: false }, axisTick: { show: false },
    splitLine: { show: true, lineStyle: { color: '#cfcfcf', type: [2, 2], width: 0.7 } },
    axisLabel: { fontSize: 7, color: '#333', fontFamily: FONT, margin: 3, formatter: fmtStep(0.5, 1) },
    name: '{a|log}{s|10}{a|(}{i|C}{s|π}{a|(}{i|T}{a|))}', nameLocation: 'middle', nameGap: 19,
    nameTextStyle: { rich },
  })
  p.groups.forEach(([name, pts]) => {
    const tag = p.tags.find(t => t[0] === name)
    series.push({
      type: 'scatter', name, xAxisIndex: gi, yAxisIndex: gi, silent: true, data: pts,
      symbol: name === 'NA' ? 'diamond' : 'rect', symbolSize: name === 'NA' ? 2.8 : 3.4,
      itemStyle: { color: COLORS[name], opacity: name === 'NA' ? 0.75 : 0.9 }, z: 3,
      markPoint: {
        silent: true, symbol: 'rect', symbolSize: 1, itemStyle: { color: 'rgba(0,0,0,0)' },
        label: {
          show: true, position: 'inside', formatter: name, color: '#fff', fontSize: 6.5, fontFamily: FONT,
          backgroundColor: COLORS[name], borderColor: 'rgba(0,0,0,0.35)', borderWidth: 0.6, borderRadius: 1,
          padding: [1.5, 2, 1, 2],
        },
        data: [{ coord: [tag[1], tag[2]] }],
        z: 5,
      },
    })
  })
})

const graphic = captions.map(([text, x, y]) => ({
  type: 'text', x, y, silent: true,
  style: { text, fill: '#111', font: '10px "Liberation Serif"', textAlign: 'center', textVerticalAlign: 'middle' },
}))
graphic.push({
  type: 'text', x: 33, y: 362, silent: true,
  style: { text: 'Fig. 5:   Experimental results with disutility estimator using UCB1, ε-greedy, TS and mixed strategies. Evaluation of (a-h) over number of rounds and 5 dis',
    fill: '#111', font: '10px "Liberation Serif"', textAlign: 'left', textVerticalAlign: 'top' },
})
// grey edge strokes at the right of (d) and (h)
graphic.push({ type: 'rect', silent: true, shape: { x: 631.5, y: 0, width: 1.6, height: 81 }, style: { fill: '#9a9a9a' } })
graphic.push({ type: 'rect', silent: true, shape: { x: 630.5, y: 115, width: 1.6, height: 84 }, style: { fill: '#9a9a9a' } })

chart.setOption({
  animation: false,
  backgroundColor: '#fff',
  grid, xAxis, yAxis, series, legend, graphic,
})
</script>
</body>
</html>
